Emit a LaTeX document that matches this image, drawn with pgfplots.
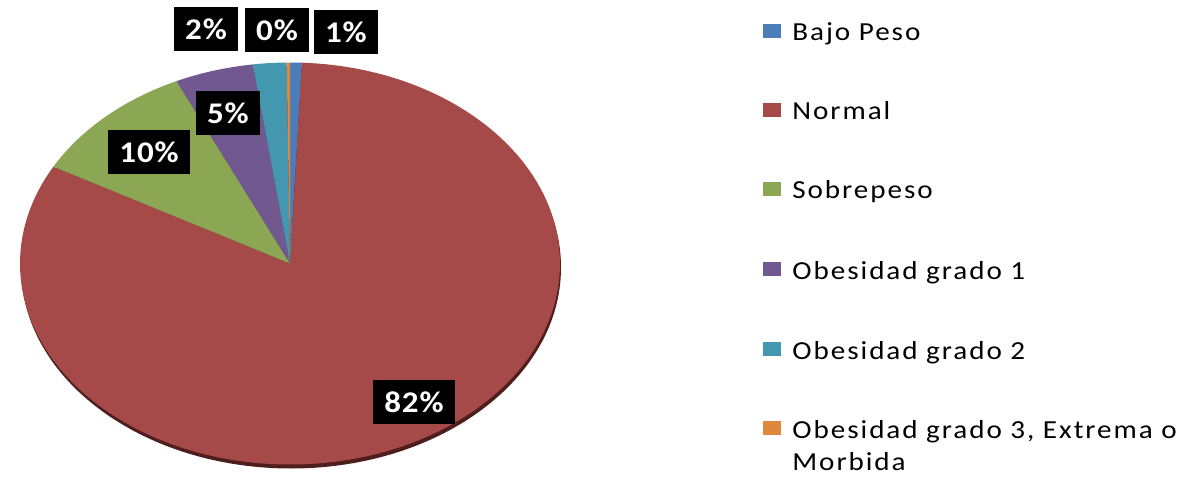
\documentclass[border=0pt]{standalone}
\usepackage{pgfplots}
\pgfplotsset{compat=1.18}
\usepackage{pgfplotstable}
\usepackage{fontspec}
\setmainfont{Carlito}
\newfontfamily\legfont[LetterSpace=7.5,FakeStretch=1.12]{Carlito}
\newfontfamily\labfont[LetterSpace=3,FakeStretch=1.1]{Carlito}
\definecolor{cblue}{HTML}{4A7DBA}
\definecolor{cred}{HTML}{A54A48}
\definecolor{cgreen}{HTML}{8CA754}
\definecolor{cpurple}{HTML}{725891}
\definecolor{cteal}{HTML}{4398B0}
\definecolor{corange}{HTML}{E0873E}
\definecolor{cshadow}{HTML}{4E1E1D}
\pgfplotstableread{
cat pct label
1 0.7 1
2 82.3 82
3 10.1 10
4 4.7 5
5 2.0 2
6 0.2 0
}\piedata
\begin{document}
\begin{tikzpicture}[x=0.5pt,y=0.5pt]
\path[use as bounding box] (0,0) rectangle (1200,488);
\coordinate (pc) at (290,224.5);
\pgfplotstablegetelem{0}{pct}\of\piedata \let\pA\pgfplotsretval
\pgfplotstablegetelem{1}{pct}\of\piedata \let\pB\pgfplotsretval
\pgfplotstablegetelem{2}{pct}\of\piedata \let\pC\pgfplotsretval
\pgfplotstablegetelem{3}{pct}\of\piedata \let\pD\pgfplotsretval
\pgfplotstablegetelem{4}{pct}\of\piedata \let\pE\pgfplotsretval
\pgfplotstablegetelem{5}{pct}\of\piedata \let\pF\pgfplotsretval
\pgfmathsetmacro\aA{90}
\pgfmathsetmacro\aB{\aA-3.6*\pA}
\pgfmathsetmacro\aC{\aB-3.6*\pB}
\pgfmathsetmacro\aD{\aC-3.6*\pC}
\pgfmathsetmacro\aE{\aD-3.6*\pD}
\pgfmathsetmacro\aF{\aE-3.6*\pE}
\pgfmathsetmacro\aG{\aF-3.6*\pF}
\begin{axis}[at={(pc)}, anchor=center, scale only axis,
  width=270pt, height=201pt, xmin=-1, xmax=1, ymin=-1, ymax=1,
  hide axis, clip=false]
\fill[cshadow] ([xshift=0.5pt,yshift=-2pt]axis cs:0,0) ellipse[x radius=135pt, y radius=100.5pt];
\fill[cblue] (axis cs:0,0) -- (axis cs:{cos(\aA)},{sin(\aA)}) arc[start angle=\aA, end angle=\aB, x radius=135pt, y radius=100.5pt] -- cycle;
\fill[cred] (axis cs:0,0) -- (axis cs:{cos(\aB)},{sin(\aB)}) arc[start angle=\aB, end angle=\aC, x radius=135pt, y radius=100.5pt] -- cycle;
\fill[cgreen] (axis cs:0,0) -- (axis cs:{cos(\aC)},{sin(\aC)}) arc[start angle=\aC, end angle=\aD, x radius=135pt, y radius=100.5pt] -- cycle;
\fill[cpurple] (axis cs:0,0) -- (axis cs:{cos(\aD)},{sin(\aD)}) arc[start angle=\aD, end angle=\aE, x radius=135pt, y radius=100.5pt] -- cycle;
\fill[cteal] (axis cs:0,0) -- (axis cs:{cos(\aE)},{sin(\aE)}) arc[start angle=\aE, end angle=\aF, x radius=135pt, y radius=100.5pt] -- cycle;
\fill[corange] (axis cs:0,0) -- (axis cs:{cos(\aF)},{sin(\aF)}) arc[start angle=\aF, end angle=\aG, x radius=135pt, y radius=100.5pt] -- cycle;
\tikzset{lab/.style={fill=black, text=white, font=\labfont\bfseries\fontsize{15}{16}\selectfont, inner sep=0pt, minimum height=22pt, minimum width=32pt}}
\node[lab] at (axis cs:-0.311,1.167) {2\%};
\node[lab] at (axis cs:-0.048,1.162) {0\%};
\node[lab] at (axis cs:0.207,1.152) {1\%};
\node[lab] at (axis cs:-0.230,0.749) {5\%};
\node[lab, minimum width=41pt] at (axis cs:-0.522,0.555) {10\%};
\node[lab, minimum width=41pt] at (axis cs:0.459,-0.689) {82\%};
\end{axis}
\tikzset{leg/.style={anchor=base west, inner sep=0pt, font=\legfont\fontsize{13}{16}\selectfont}}
\fill[cblue] (763,450) rectangle (781,464);
\node[leg] at (792,447.3) {Bajo Peso};
\fill[cred] (763,371) rectangle (781,385);
\node[leg] at (792,368) {Normal};
\fill[cgreen] (763,292) rectangle (781,306);
\node[leg] at (792,289) {Sobrepeso};
\fill[cpurple] (763,212) rectangle (781,226);
\node[leg] at (792,208) {Obesidad grado 1};
\fill[cteal] (763,132) rectangle (781,146);
\node[leg] at (792,129) {Obesidad grado 2};
\fill[corange] (763,53) rectangle (781,67);
\node[leg] at (792,50) {Obesidad grado 3, Extrema o};
\node[leg] at (792,18) {Morbida};
\end{tikzpicture}
\end{document}
